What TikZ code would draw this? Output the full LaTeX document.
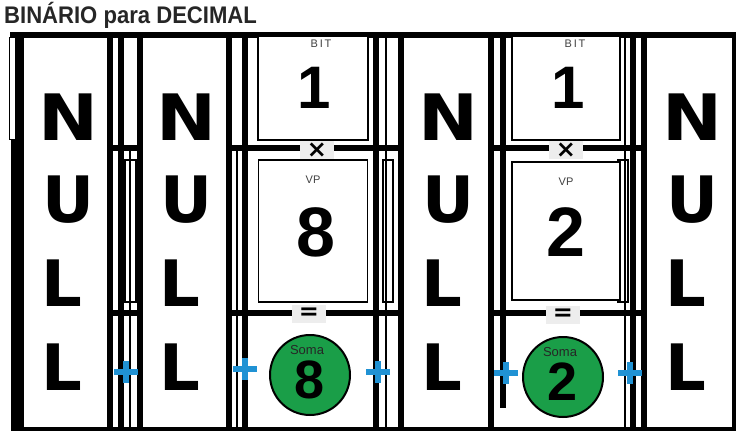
\documentclass[tikz,border=0pt]{standalone}
\usepackage{fontspec}
\setmainfont{Liberation Sans}
\newfontfamily\letrafont{DejaVu Sans}
\definecolor{azulmais}{RGB}{32,146,212}
\definecolor{verdesoma}{RGB}{26,158,72}
\tikzset{
  barra/.style={line width=6pt},
  filete/.style={line width=1.6pt},
  mais/.style={line width=6pt,color=azulmais},
  letra/.style={inner sep=0pt,font=\letrafont\bfseries\fontsize{64}{64}\selectfont},
  caixa/.style={draw,line width=1.8pt,fill=white},
  rotulo/.style={inner sep=0pt,font=\fontsize{11}{11}\selectfont,text=black!75},
  digito/.style={inner sep=0pt,font=\bfseries\fontsize{#1}{#1}\selectfont},
  soma/.style={circle,draw,line width=2pt,fill=verdesoma,minimum size=80pt,inner sep=0pt},
  sinal/.style={fill=black!7,inner sep=0pt,minimum width=34pt,minimum height=18pt,
    font=\letrafont\bfseries\fontsize{24}{24}\selectfont}
}
\begin{document}
\begin{tikzpicture}[x=1pt,y=-1pt]
  \useasboundingbox[fill=white] (0,0) rectangle (736,433);
  \node[anchor=west,inner sep=0pt,text=black!85,font=\bfseries\fontsize{24}{24}\selectfont] (titulo) at (4,15) {\scalebox{0.92}[1]{BINÁRIO para DECIMAL}};

  \draw[barra] (10,35) -- (736,35);
  \draw[line width=4pt] (11,429) -- (736,429);

  \draw[line width=13pt] (17.5,35) -- (17.5,431);
  \draw[fill=white,line width=1pt] (9,38) rectangle (15,140);
  \draw[barra] (110,35) -- (110,431);
  \draw[barra] (121,35) -- (121,431);
  \draw[barra] (140,35) -- (140,431);
  \draw[filete] (130,150) -- (130,431);
  \draw[barra] (229,35) -- (229,431);
  \draw[filete] (237,150) -- (237,431);
  \draw[barra] (245,35) -- (245,431);
  \draw[barra] (376,35) -- (376,431);
  \draw[filete] (386,35) -- (386,431);
  \draw[barra] (401,35) -- (401,431);
  \draw[barra] (491,35) -- (491,431);
  \draw[barra] (503,35) -- (503,408);
  \draw[filete] (625,35) -- (625,431);
  \draw[barra] (633,35) -- (633,431);
  \draw[barra] (644,35) -- (644,431);
  \draw[line width=4pt] (734,35) -- (734,431);

  \draw[filete] (125,160) rectangle (136,302);
  \draw[filete] (383,160) rectangle (393,302);
  \draw[filete] (618,160) rectangle (628,302);

  \draw[barra] (110,148) -- (143,148);
  \draw[barra] (226,148) -- (376,148);
  \draw[barra] (376,148) -- (401,148);
  \draw[barra] (491,148) -- (644,148);
  \draw[barra] (110,313) -- (143,313);
  \draw[barra] (226,313) -- (401,313);
  \draw[barra] (491,313) -- (644,313);

  \node[caixa,minimum width=110pt,minimum height=104pt] (bitA) at (313,88) {};
  \node[caixa,minimum width=109pt,minimum height=142pt] (vpA) at (313,231) {};
  \node[caixa,minimum width=108pt,minimum height=104pt] (bitB) at (566,88) {};
  \node[caixa,minimum width=108pt,minimum height=138pt] (vpB) at (566,231) {};

  \node[rotulo] (bitArot) at (321,44) {B\,I\,T};
  \node[digito=60] (bitAval) at (314,88) {1};
  \node[rotulo] (vpArot) at (313,180) {VP};
  \node[digito=70] (vpAval) at (316,232) {8};
  \node[rotulo] (bitBrot) at (575,44) {B\,I\,T};
  \node[digito=60] (bitBval) at (568,88) {1};
  \node[rotulo] (vpBrot) at (566,182) {VP};
  \node[digito=70] (vpBval) at (566,232) {2};

  \node[sinal] (vezesA) at (317,150) {×};
  \node[sinal] (igualA) at (309,314) {=};
  \node[sinal] (vezesB) at (566,150) {×};
  \node[sinal] (igualB) at (563,315) {=};

  \node[soma] (somaA) at (310,375) {};
  \node[inner sep=0pt,font=\fontsize{13}{13}\selectfont,text=black!85] (somaArot) at (307,350) {Soma};
  \node[digito=54] (somaAval) at (310,380) {8};
  \node[soma] (somaB) at (563,377) {};
  \node[inner sep=0pt,font=\fontsize{13}{13}\selectfont,text=black!85] (somaBrot) at (560,352) {Soma};
  \node[digito=54] (somaBval) at (563,382) {2};

  \foreach \cx/\nm in {68/a,186/b,448/c,692/d}{
    \node[letra] (n\nm) at (\cx,117) {\scalebox{1.12}[1]{N}};
    \node[letra] (u\nm) at (\cx,200) {U};
    \node[letra] (l\nm) at (\cx-6,283) {L};
    \node[letra] (ll\nm) at (\cx-6,367) {L};
  }

  \foreach \px/\py in {126/372,245/369,378/372,506/373,630/373}{
    \draw[mais] (\px-12,\py) -- (\px+12,\py);
    \draw[mais] (\px,\py-11) -- (\px,\py+11);
  }
\end{tikzpicture}
\end{document}
